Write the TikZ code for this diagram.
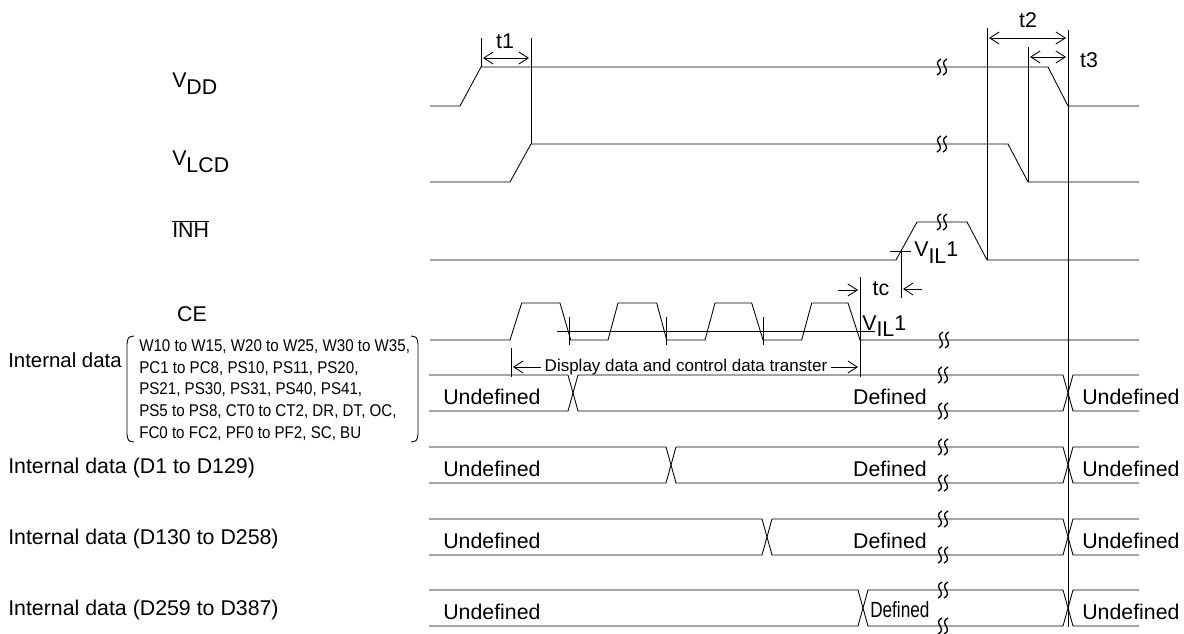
\documentclass[tikz,border=0pt]{standalone}
\usepackage{fontspec}
\setmainfont{Liberation Sans}
\newfontfamily\narrowfont{Liberation Sans}[FakeStretch=0.89]
\newfontfamily\tightfont{Liberation Sans}[FakeStretch=0.78]
\usetikzlibrary{arrows.meta}
\tikzset{
  sig/.style={line width=0.65pt},
  lbl/.style={font=\fontsize{16}{19}\selectfont, inner sep=0pt},
  sml/.style={font=\fontsize{12.75}{16.2}\selectfont, inner sep=0pt},
  dim/.style={line width=0.65pt, {Straight Barb[length=7pt,width=9pt]}-{Straight Barb[length=7pt,width=9pt]}},
}
\newcommand{\wavebreak}[2]{%
  \foreach \dx in {-3,3}
    \draw[line width=1pt] ({#1+\dx+2},{#2-8}) .. controls ({#1+\dx-8},{#2-3}) and ({#1+\dx+8},{#2+3}) .. ({#1+\dx-2},{#2+8});}
\begin{document}
\begin{tikzpicture}[x=0.75pt,y=-0.75pt]
                \useasboundingbox (0,0) rectangle (1184,634);
                %% VDD
                \node[lbl, anchor=base west] (vdd) at (172,88) {V\raisebox{-5pt}{DD}};
                \draw[sig] (430,106) -- (460,106) -- (481,67) -- (1048,67) -- (1068,106) -- (1139,106);
                \wavebreak{942}{67}
                %% VLCD
                \node[lbl, anchor=base west] (vlcd) at (172,166) {V\raisebox{-5pt}{LCD}};
                \draw[sig] (430,182) -- (510,182) -- (531,144) -- (1008,144) -- (1028,182) -- (1139,182);
                \wavebreak{942}{144}
                %% INH
                \node[lbl, anchor=base west] (inh) at (172,238) {$\overline{\hbox{INH}}$};
                \draw[sig] (430,260) -- (896,260) -- (917,222) -- (967,222) -- (987,260) -- (1139,260);
                \wavebreak{942}{222}
                \draw[sig] (890,251) -- (911,251);
                \draw[sig] (901,251) -- (901,298);
                \node[lbl, anchor=base west] (vilinh) at (914,257) {V\raisebox{-5pt}{IL}1};
                %% CE
                \node[lbl, anchor=base] (ce) at (192,322) {CE};
                \draw[sig] (430,340) -- (510,340) -- (521.7,303) -- (560,303) -- (570.7,340) -- (608,340) -- (618,303) -- (656.7,303) -- (666.7,340) -- (705,340) -- (715,303) -- (751.7,303) -- (763,340) -- (801.7,340) -- (811.7,303) -- (848,303) -- (860,340) -- (1139,340);
                \wavebreak{944}{340}
                \draw[line width=0.5pt] (557,331) -- (875,331);
                \foreach \x in {569,666,763}
                  \draw[line width=0.5pt] (\x,317) -- (\x,345);
                \node[lbl, anchor=base west] (vilce) at (862,330) {V\raisebox{-5pt}{IL}1};
                %% tc
                \draw[sig] (860,277) -- (860,377);
                \draw[line width=0.65pt, -{Straight Barb[length=7pt,width=9pt]}] (838,290) -- (858,290);
                \draw[line width=0.65pt, -{Straight Barb[length=7pt,width=9pt]}] (922,289) -- (903,289);
                \node[lbl, anchor=center] (tc) at (881,289) {tc};
                %% data transfer
                \draw[sig] (511,348) -- (511,377);
                \draw[dim] (513,367) -- (858,367);
                \node[sml, fill=white, inner xsep=3pt, inner ysep=2pt] (xfer) at (686,367) {Display data and control data transter};
                %% t1, t2, t3
                \draw[sig] (481,38) -- (481,67);
                \draw[sig] (531,38) -- (531,144);
                \draw[dim] (483,58) -- (529,58);
                \node[lbl] (t1) at (505,41) {t1};
                \draw[sig] (987,28) -- (987,260);
                \draw[sig] (1028,47) -- (1028,182);
                \draw[sig] (1068,30) -- (1068,627);
                \draw[dim] (989,38) -- (1066,38);
                \draw[dim] (1030,57) -- (1066,57);
                \node[lbl] (t2) at (1028,20) {t2};
                \node[lbl] (t3) at (1089,60) {t3};
                %% internal data
                \node[lbl, anchor=base west, font=\fontsize{15.3}{18}\selectfont] (intreg) at (8,367) {Internal data};
                \draw[sig] (134,336) .. controls (128,337) .. (127,344) -- (127,434) .. controls (128,441) .. (134,442);
                \draw[sig] (411,336) .. controls (417,337) .. (418,344) -- (418,434) .. controls (417,441) .. (411,442);
                \node[sml, anchor=west, align=left, font=\narrowfont\fontsize{12.75}{16.2}\selectfont] (regs) at (139,390) {W10 to W15, W20 to W25, W30 to W35,\\PC1 to PC8, PS10, PS11, PS20,\\PS21, PS30, PS31, PS40, PS41,\\PS5 to PS8, CT0 to CT2, DR, DT, OC,\\FC0 to FC2, PF0 to PF2, SC, BU};
                \node[lbl, anchor=base west] (intd1) at (8,473) {Internal data (D1 to D129)};
                \node[lbl, anchor=base west] (intd2) at (8,544) {Internal data (D130 to D258)};
                \node[lbl, anchor=base west] (intd3) at (8,615) {Internal data (D259 to D387)};
                %% data rows
                \foreach \tp/\c in {375/568, 447/666, 519/762, 590/858} {
                  \draw[sig] (429,\tp) -- (\c,\tp) -- ({\c+10},{\tp+36}) -- (1063,{\tp+36}) -- (1073,\tp) -- (1139,\tp);
                  \draw[sig] (429,{\tp+36}) -- (\c,{\tp+36}) -- ({\c+10},\tp) -- (1063,\tp) -- (1073,{\tp+36}) -- (1139,{\tp+36});
                  \wavebreak{943}{\tp}
                  \wavebreak{943}{\tp+36}
                  \node[lbl, anchor=base west] at (443,{\tp+29}) {Undefined};
                  \node[lbl, anchor=base west] at (1082,{\tp+29}) {Undefined};
                }
                \node[lbl, anchor=base east] (def1) at (927,404) {Defined};
                \node[lbl, anchor=base east] (def2) at (927,476) {Defined};
                \node[lbl, anchor=base east] (def3) at (927,548) {Defined};
                \node[lbl, anchor=base west, font=\tightfont\fontsize{16.5}{18}\selectfont] (def4) at (870,617) {Defined};
\end{tikzpicture}
\end{document}
